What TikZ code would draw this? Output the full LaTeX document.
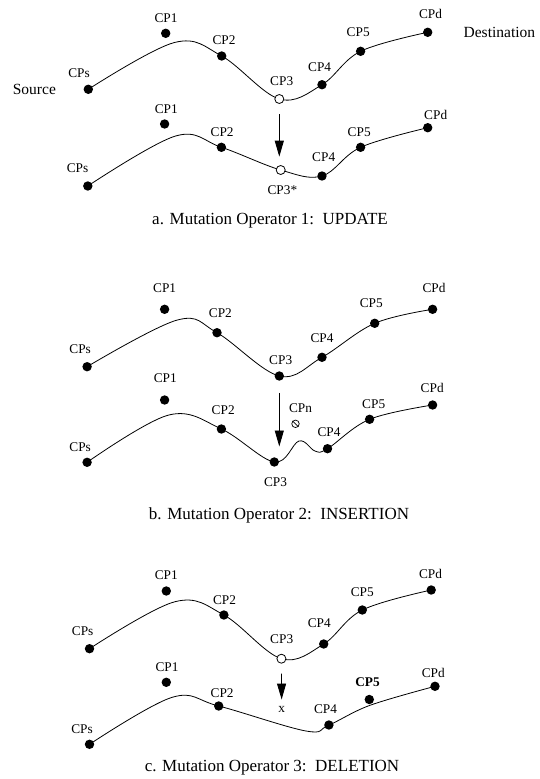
\documentclass[tikz,border=0pt]{standalone}
\usepackage{fontspec}
\setmainfont{Liberation Serif}
\usetikzlibrary{arrows.meta,backgrounds}
\begin{document}
\begin{tikzpicture}[x=1pt,y=-1pt,
  dot/.style={circle,fill=black,inner sep=0pt,minimum size=9.4pt},
  odot/.style={circle,draw=black,fill=white,line width=0.8pt,inner sep=0pt,minimum size=9pt},
  ndot/.style={circle,draw=black,fill=white,line width=0.7pt,inner sep=0pt,minimum size=7.5pt},
  lbl/.style={inner sep=0pt,font=\fontsize{13.3}{15}\selectfont},
  big/.style={inner sep=0pt,font=\fontsize{15.5}{18}\selectfont},
  captxt/.style={inner sep=0pt,anchor=base,font=\fontsize{17}{19}\selectfont},
  route/.style={line width=0.8pt},
  arr/.style={line width=0.9pt,-{Triangle[length=16pt,width=9pt]}}]
\useasboundingbox (0,0) rectangle (540,779);

% ---------- a. UPDATE : original route ----------
\node[dot]  (pas) at (88.3,89.3)  {};
\node[dot]  (pa1) at (165.7,33.3) {};
\node[dot]  (pa2) at (221.7,56)   {};
\node[odot] (pa3) at (279.3,99)   {};
\node[dot]  (pa4) at (322,84.7)   {};
\node[dot]  (pa5) at (360.6,51.3) {};
\node[dot]  (pad) at (427.7,32.3) {};
\coordinate (pak) at (174.5,42.5);
\node[lbl] (pasl) at (79,72.7)    {CPs};
\node[lbl] (pa1l) at (166,18.5)   {CP1};
\node[lbl] (pa2l) at (224,40.3)   {CP2};
\node[lbl] (pa3l) at (281.7,80.7) {CP3};
\node[lbl] (pa4l) at (319.6,66.7) {CP4};
\node[lbl] (pa5l) at (358.2,32.3) {CP5};
\node[lbl] (padl) at (430.5,14)   {CPd};
\node[big] (src)  at (34.4,89.3)  {Source};
\node[big] (dst)  at (499.4,32.3) {Destination};

% ---------- a. UPDATE : mutated route ----------
\node[dot]  (qas) at (87.8,186)    {};
\node[dot]  (qa1) at (164.6,124)   {};
\node[dot]  (qa2) at (221.4,147.3) {};
\node[odot] (qa3) at (280.7,170)   {};
\node[dot]  (qa4) at (322,176)     {};
\node[dot]  (qa5) at (360.6,147.3) {};
\node[dot]  (qad) at (427.7,127.7) {};
\coordinate (qak) at (175.6,136);
\node[lbl] (qasl) at (77.5,168.3)  {CPs};
\node[lbl] (qa1l) at (166.3,109)   {CP1};
\node[lbl] (qa2l) at (222.1,131.7) {CP2};
\node[lbl] (qa3l) at (282.4,190)   {CP3*};
\node[lbl] (qa4l) at (323.7,156.7) {CP4};
\node[lbl] (qa5l) at (359.2,131.7) {CP5};
\node[lbl] (qadl) at (435.7,115)   {CPd};
\draw[arr,shorten <=10.5pt,shorten >=13.3pt] (pa3) -- (pa3 |- qa3);
\node[captxt] (capa) at (270,224) {a. Mutation Operator 1:\ \ UPDATE};

% ---------- b. INSERTION : original route ----------
\node[dot] (pbs) at (87.1,366.7)  {};
\node[dot] (pb1) at (164.6,309.3) {};
\node[dot] (pb2) at (217,332.7)   {};
\node[dot] (pb3) at (279.3,376)   {};
\node[dot] (pb4) at (322,357.3)   {};
\node[dot] (pb5) at (374.7,323.3) {};
\node[dot] (pbd) at (432.6,309.3) {};
\coordinate (pbk) at (177.4,320);
\node[lbl] (pbsl) at (80.2,349.3)  {CPs};
\node[lbl] (pb1l) at (164.6,288.3) {CP1};
\node[lbl] (pb2l) at (220.4,313.3) {CP2};
\node[lbl] (pb3l) at (280.7,360)   {CP3};
\node[lbl] (pb4l) at (322,338.3)   {CP4};
\node[lbl] (pb5l) at (371.3,303.3) {CP5};
\node[lbl] (pbdl) at (434,288.3)   {CPd};

% ---------- b. INSERTION : mutated route ----------
\node[dot]  (qbs) at (87.1,462.3)  {};
\node[dot]  (qb1) at (164.6,400)   {};
\node[dot]  (qb2) at (221.4,429)   {};
\node[dot]  (qb3) at (274.3,462)   {};
\node[ndot] (qbn) at (295.5,423.8) {};
\draw[line width=0.7pt] (qbn.north west) -- (qbn.south east);
\node[dot]  (qb4) at (327.5,448.7) {};
\node[dot]  (qb5) at (369.6,419.3) {};
\node[dot]  (qbd) at (432.6,405)   {};
\coordinate (qbk) at (168.8,415);
\coordinate (qbu) at (299,441);
\coordinate (qbv) at (315,451);
\node[lbl] (qbsl) at (80.2,446.7)  {CPs};
\node[lbl] (qb1l) at (165.3,378.3) {CP1};
\node[lbl] (qb2l) at (223.2,410)   {CP2};
\node[lbl] (qb3l) at (275.5,482)   {CP3};
\node[lbl] (qbnl) at (300.5,408.5) {CPn};
\node[lbl] (qb4l) at (329,432.5)   {CP4};
\node[lbl] (qb5l) at (373.7,404)   {CP5};
\node[lbl] (qbdl) at (432.2,388.3) {CPd};
\draw[arr,shorten <=12pt,shorten >=15.5pt] (pb3) -- (pb3 |- qb3);
\node[captxt] (capb) at (279,519) {b. Mutation Operator 2:\ \ INSERTION};

% ---------- c. DELETION : original route ----------
\node[dot]  (pcs) at (89.5,648.7) {};
\node[dot]  (pc1) at (166.3,591)  {};
\node[dot]  (pc2) at (223.9,615)  {};
\node[odot] (pc3) at (281.4,658.7) {};
\node[dot]  (pc4) at (323.7,644)  {};
\node[dot]  (pc5) at (362.3,610)  {};
\node[dot]  (pcd) at (431.2,590)  {};
\coordinate (pck) at (175,601.7);
\node[lbl] (pcsl) at (82.7,631)   {CPs};
\node[lbl] (pc1l) at (166.3,575)  {CP1};
\node[lbl] (pc2l) at (224.5,600)  {CP2};
\node[lbl] (pc3l) at (281.7,639.3) {CP3};
\node[lbl] (pc4l) at (319.3,623.3) {CP4};
\node[lbl] (pc5l) at (362.3,592.3) {CP5};
\node[lbl] (pcdl) at (430.5,574)  {CPd};

% ---------- c. DELETION : mutated route ----------
\node[dot] (qcs) at (89.5,744.3)  {};
\node[dot] (qc1) at (166.3,682.3) {};
\node[dot] (qc2) at (218.7,706)   {};
\node[dot] (qc4) at (328.9,725)   {};
\node[dot] (qc5) at (369.3,699.5) {};
\node[dot] (qcd) at (435,686.3)   {};
\coordinate (qck) at (172.2,697.3);
\coordinate (qcm) at (306,731);
\coordinate (qcw) at (370,705.3);
\node[lbl] (qcx)  at (281.7,709.3) {x};
\node[lbl] (qcsl) at (82,729.3)    {CPs};
\node[lbl] (qc1l) at (167,667.3)   {CP1};
\node[lbl] (qc2l) at (222.1,692.7) {CP2};
\node[lbl] (qc4l) at (325.5,709.3) {CP4};
\node[lbl,font=\fontsize{13.3}{15}\selectfont\bfseries] (qc5l) at (367.5,682) {CP5};
\node[lbl] (qcdl) at (433.3,673.3) {CPd};
\draw[arr,shorten <=10pt,shorten >=6.5pt] (pc3) -- (qcx);
\node[captxt] (capc) at (272,771) {c. Mutation Operator 3:\ \ DELETION};

% ---------- routes, drawn beneath the control points ----------
\begin{scope}[on background layer]
\draw[route] plot[smooth,tension=0.6] coordinates {(pas.center) (pak) (pa2.center) (pa3.center) (pa4.center) (pa5.center) (pad.center)};
\draw[route] plot[smooth,tension=0.6] coordinates {(qas.center) (qak) (qa2.center) (qa3.center) (qa4.center) (qa5.center) (qad.center)};
\draw[route] plot[smooth,tension=0.6] coordinates {(pbs.center) (pbk) (pb2.center) (pb3.center) (pb4.center) (pb5.center) (pbd.center)};
\draw[route] plot[smooth,tension=0.6] coordinates {(qbs.center) (qbk) (qb2.center) (qb3.center) (qbu) (qbv) (qb4.center) (qb5.center) (qbd.center)};
\draw[route] plot[smooth,tension=0.6] coordinates {(pcs.center) (pck) (pc2.center) (pc3.center) (pc4.center) (pc5.center) (pcd.center)};
\draw[route] plot[smooth,tension=0.6] coordinates {(qcs.center) (qck) (qc2.center) (qcm) (qc4.center) (qcw) (qcd.center)};
\end{scope}
\end{tikzpicture}
\end{document}
